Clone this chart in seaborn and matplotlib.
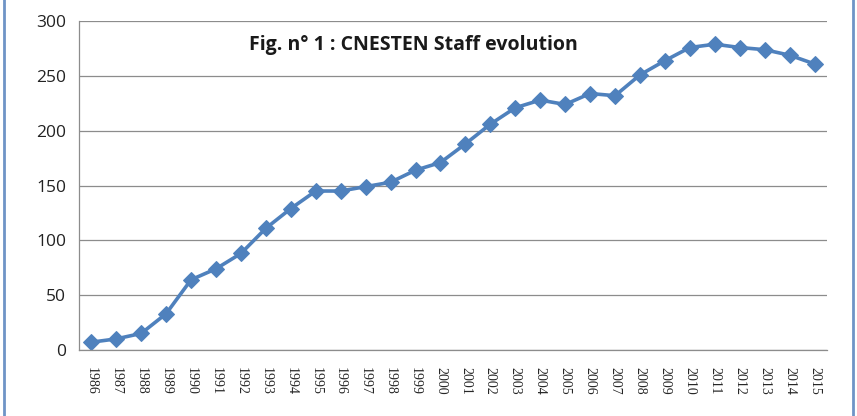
import matplotlib
matplotlib.use("Agg")
import matplotlib.pyplot as plt
import seaborn as sns
import pandas as pd
from matplotlib.patches import Rectangle

years = [str(y) for y in range(1986, 2016)]
staff = [7, 10, 15, 33, 64, 74, 88, 111, 129, 145,
         145, 149, 153, 164, 171, 188, 206, 221, 228, 224,
         234, 232, 251, 264, 276, 279, 276, 274, 269, 261]

df = pd.DataFrame({"year": years, "staff": staff})

sns.set_style("white")
plt.rcParams['font.family'] = ['Open Sans', 'DejaVu Sans']

fig = plt.figure(figsize=(8.57, 4.16), dpi=100)
ax = fig.add_axes([0.092, 0.159, 0.873, 0.79])

sns.lineplot(data=df, x="year", y="staff", ax=ax, sort=False,
             color="#4F81BD", linewidth=2.6, marker="D",
             markersize=8, markeredgecolor="#4F81BD")

ax.set_xlim(-0.5, len(years) - 0.5)
ax.set_ylim(0, 300)
ax.set_yticks(range(0, 301, 50))
ax.yaxis.grid(True, color="#8c8c8c", linewidth=0.9)
ax.set_axisbelow(True)
ax.set_xlabel("")
ax.set_ylabel("")

# excel-style ticks between categories
ax.set_xticks(range(len(years)))
ax.set_xticklabels(years, rotation=270, family="Liberation Serif", fontsize=10)
ax.set_xticks([i - 0.5 for i in range(len(years) + 1)], minor=True)
ax.tick_params(axis="x", which="major", length=0, pad=12)
ax.tick_params(axis="x", which="minor", length=5, color="#8c8c8c", direction="out")
ax.tick_params(axis="y", length=5, color="#8c8c8c", direction="out", labelsize=12.5,
               labelcolor="#222222", pad=4)

for s in ["top", "right"]:
    ax.spines[s].set_visible(False)
for s in ["left", "bottom"]:
    ax.spines[s].set_color("#8c8c8c")
    ax.spines[s].set_linewidth(0.9)

ax.text(0.447, 0.927, "Fig. n° 1 : CNESTEN Staff evolution", transform=ax.transAxes,
        ha="center", va="center", fontsize=14, fontweight="bold", color="#1a1a1a")

# frame around the figure
fig.patches.append(Rectangle((0.005, -0.05), 0.99, 1.1, transform=fig.transFigure,
                             fill=False, edgecolor="#6f94c6", linewidth=2))

fig.savefig("out.png", dpi=100)
